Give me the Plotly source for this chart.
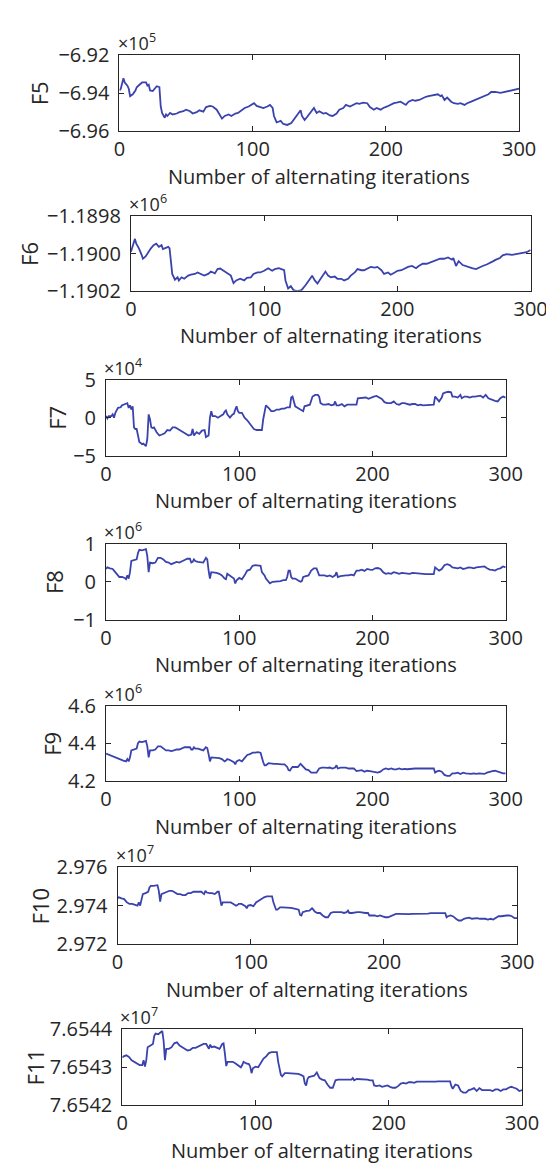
import plotly.graph_objects as go

# ---------------- data (values in the axis' displayed units, see multipliers) ----------------
F5_x = [0,1,3,4,6,7,8,10,12,13,15,17,20,21,22,23,25,27,28,30,
        31,32,34,35,36,38,40,43,45,48,50,53,55,58,60,63,65,68,70,73,
        75,77,79,82,84,87,89,92,94,97,99,101,103,106,108,111,113,115,116,118,
        121,123,126,129,131,134,136,137,139,141,144,146,148,150,153,155,158,160,163,165,
        168,170,173,175,178,180,183,186,188,191,193,196,198,201,203,206,208,211,215,217,
        220,222,225,227,230,232,235,239,241,242,244,246,249,251,254,256,259,261,264,267,
        269,272,274,277,279,282,286,289,293,297,300]
F5_y = [-6.9385,-6.9376,-6.9321,-6.9343,-6.9360,-6.9376,-6.9415,-6.9405,-6.9385,-6.9368,
        -6.9355,-6.9343,-6.9343,-6.9360,-6.9355,-6.9385,-6.9388,-6.9368,-6.9363,-6.9368,
        -6.9469,-6.9503,-6.9528,-6.9511,-6.9519,-6.9503,-6.9511,-6.9506,-6.9499,-6.9494,
        -6.9486,-6.9494,-6.9506,-6.9499,-6.9489,-6.9496,-6.9472,-6.9466,-6.9469,-6.9486,
        -6.9511,-6.9533,-6.9519,-6.9511,-6.9519,-6.9506,-6.9503,-6.9486,-6.9477,-6.9469,
        -6.9461,-6.9452,-6.9466,-6.9472,-6.9477,-6.9469,-6.9461,-6.9477,-6.9519,-6.9553,
        -6.9545,-6.9561,-6.9566,-6.9556,-6.9536,-6.9511,-6.9489,-6.9519,-6.9540,-6.9523,
        -6.9494,-6.9477,-6.9503,-6.9494,-6.9506,-6.9503,-6.9516,-6.9519,-6.9506,-6.9486,
        -6.9477,-6.9461,-6.9469,-6.9461,-6.9452,-6.9455,-6.9449,-6.9452,-6.9472,-6.9486,
        -6.9477,-6.9486,-6.9477,-6.9469,-6.9461,-6.9452,-6.9449,-6.9444,-6.9461,-6.9444,
        -6.9435,-6.9439,-6.9435,-6.9427,-6.9418,-6.9415,-6.9410,-6.9405,-6.9415,-6.9410,
        -6.9435,-6.9422,-6.9444,-6.9452,-6.9455,-6.9452,-6.9461,-6.9452,-6.9444,-6.9435,
        -6.9430,-6.9418,-6.9415,-6.9405,-6.9393,-6.9393,-6.9398,-6.9393,-6.9385,-6.9382,
        -6.9376]

F6_x = [0,1,3,4,6,8,9,11,13,15,
        17,19,21,23,24,26,28,29,30,31,
        33,35,36,38,40,43,45,48,50,53,
        55,58,60,63,65,67,69,72,75,77,
        79,82,85,87,90,92,95,97,100,103,
        106,108,111,113,115,116,118,120,122,125,
        128,131,133,135,136,138,140,142,144,146,
        148,150,153,155,158,160,163,165,168,170,
        173,175,178,180,183,185,188,190,193,195,
        198,200,203,206,208,211,214,216,219,222,
        224,227,230,232,235,238,241,242,244,246,
        249,251,254,256,259,261,264,267,269,272,
        274,277,279,282,286,289,293,297,300]
F6_y = [-1.189990,-1.189964,-1.189921,-1.189947,-1.189972,-1.190007,-1.190028,-1.190016,-1.189990,-1.189972,
        -1.189955,-1.189947,-1.189964,-1.189955,-1.189976,-1.189972,-1.189964,-1.189972,-1.190041,-1.190110,
        -1.190141,-1.190128,-1.190145,-1.190128,-1.190136,-1.190119,-1.190114,-1.190110,-1.190102,-1.190114,
        -1.190119,-1.190110,-1.190097,-1.190107,-1.190084,-1.190081,-1.190090,-1.190102,-1.190119,-1.190159,
        -1.190145,-1.190136,-1.190145,-1.190131,-1.190128,-1.190110,-1.190102,-1.190102,-1.190093,-1.190079,
        -1.190093,-1.190084,-1.190079,-1.190084,-1.190090,-1.190145,-1.190188,-1.190176,-1.190197,-1.190203,
        -1.190197,-1.190171,-1.190153,-1.190131,-1.190119,-1.190145,-1.190162,-1.190141,-1.190119,-1.190097,
        -1.190119,-1.190128,-1.190124,-1.190136,-1.190136,-1.190145,-1.190136,-1.190119,-1.190102,-1.190084,
        -1.190090,-1.190090,-1.190079,-1.190072,-1.190076,-1.190072,-1.190090,-1.190110,-1.190102,-1.190114,
        -1.190102,-1.190093,-1.190090,-1.190079,-1.190072,-1.190067,-1.190079,-1.190067,-1.190055,-1.190055,
        -1.190050,-1.190041,-1.190033,-1.190028,-1.190028,-1.190021,-1.190033,-1.190024,-1.190067,-1.190041,
        -1.190062,-1.190067,-1.190076,-1.190079,-1.190084,-1.190076,-1.190067,-1.190059,-1.190050,-1.190041,
        -1.190033,-1.190024,-1.190010,-1.190003,-1.190007,-1.190003,-1.189998,-1.189993,-1.189981]

F7_x = [0,1,2,4,5,6,7,9,11,12,
        13,15,16,17,18,19,20,21,22,23,
        24,25,26,27,28,29,30,31,32,33,
        34,35,36,38,40,42,44,46,48,50,
        52,54,56,58,60,62,64,65,66,68,
        70,72,74,75,77,78,79,80,82,84,
        86,88,89,90,91,93,95,96,97,98,
        99,100,102,104,106,108,109,111,113,115,
        117,118,119,120,122,124,126,128,130,132,
        134,136,138,139,140,141,142,144,146,148,
        149,151,153,155,157,159,160,161,163,165,
        167,169,171,172,173,175,177,179,181,183,
        185,187,188,189,191,193,195,197,199,201,
        203,205,207,209,211,213,214,216,218,220,
        222,224,226,228,230,232,234,236,238,240,
        242,244,246,247,248,250,252,253,255,257,
        259,260,262,264,266,267,269,271,273,275,
        277,279,281,283,285,287,288,290,292,294,
        296,298,300]
F7_y = [0.21,-0.09,0.21,0.21,0.43,0.0,0.64,1.28,1.36,1.62,
        1.70,1.79,1.91,1.28,1.62,1.06,1.49,-1.28,-1.49,-1.49,
        -2.21,-3.19,-3.32,-3.49,-3.40,-3.62,-3.74,-2.77,0.43,-0.21,
        -1.28,-1.36,-1.28,-1.91,-2.34,-2.21,-2.04,-1.62,-1.70,-1.28,
        -1.28,-1.49,-1.70,-1.91,-2.04,-2.34,-2.21,-1.49,-2.34,-1.91,
        -2.13,-1.70,-1.62,-2.55,-2.34,0.0,0.85,0.21,0.21,0.0,
        0.21,0.43,0.77,0.94,0.43,0.0,0.43,0.51,1.06,1.49,
        0.85,0.64,0.64,0.0,-0.34,-0.77,-1.06,-1.49,-1.62,-1.62,
        -1.62,-0.21,1.06,1.62,1.28,0.85,0.85,1.06,1.06,1.19,
        1.19,1.36,1.36,2.64,2.77,1.91,1.49,1.28,1.06,0.85,
        1.49,1.62,1.70,2.77,2.98,2.98,2.77,1.91,1.70,1.70,
        1.79,1.62,1.70,2.13,1.62,1.62,1.79,1.49,1.70,1.70,
        1.70,1.62,1.70,2.55,2.55,2.55,2.64,2.47,2.64,2.77,
        2.85,2.64,2.47,2.04,1.91,1.91,1.91,2.13,1.79,1.70,
        1.91,1.91,1.79,1.70,1.79,1.79,1.62,1.70,1.62,1.62,
        1.62,1.62,1.70,2.77,2.55,2.13,2.64,3.19,3.32,3.40,
        3.32,2.77,2.77,2.64,2.98,2.55,2.77,2.77,2.64,2.77,
        2.77,2.85,2.89,2.64,2.98,2.55,2.47,2.34,2.21,2.13,
        2.55,2.77,2.64]

F8_x = [0,1,3,5,6,8,10,12,14,15,
        16,17,18,19,21,23,24,25,27,29,
        30,31,32,33,35,37,39,41,43,45,
        47,49,51,53,55,57,59,61,63,64,
        65,66,67,69,71,73,75,76,77,78,
        79,81,83,85,87,89,90,91,93,95,
        96,97,98,100,102,104,106,108,110,112,
        114,116,117,118,119,120,122,123,125,127,
        129,131,133,135,136,137,138,139,140,142,
        144,146,147,148,150,152,154,156,158,160,
        162,164,166,168,170,172,173,174,176,178,
        180,182,184,186,188,190,192,194,196,198,
        200,202,204,206,208,210,212,214,216,218,
        220,222,224,226,228,230,232,234,236,238,
        240,242,244,246,247,248,250,252,254,256,
        258,260,262,264,266,268,270,272,274,276,
        278,280,282,284,286,288,290,292,294,296,
        298,300]
F8_y = [0.336,0.378,0.353,0.336,0.294,0.210,0.126,0.126,0.101,0.067,
        0.168,0.084,0.252,0.546,0.571,0.588,0.756,0.840,0.824,0.840,
        0.857,0.672,0.252,0.504,0.487,0.504,0.630,0.630,0.588,0.521,
        0.504,0.462,0.487,0.521,0.504,0.546,0.571,0.605,0.605,0.504,
        0.521,0.588,0.546,0.521,0.504,0.504,0.630,0.588,0.294,0.084,
        0.252,0.252,0.235,0.210,0.168,0.084,0.067,0.210,0.168,0.126,
        0.084,-0.042,0.042,0.101,0.067,0.168,0.294,0.319,0.420,0.437,
        0.420,0.420,0.252,0.210,0.168,0.084,0.0,-0.042,0.0,0.0,
        0.017,0.017,0.042,0.042,0.126,0.294,0.294,0.126,0.084,0.084,
        0.042,0.0,0.017,0.126,0.151,0.168,0.294,0.353,0.353,0.168,
        0.168,0.168,0.143,0.168,0.126,0.168,0.252,0.126,0.151,0.168,
        0.168,0.168,0.185,0.168,0.294,0.294,0.319,0.286,0.336,0.319,
        0.311,0.353,0.361,0.336,0.252,0.210,0.227,0.210,0.252,0.235,
        0.210,0.235,0.227,0.210,0.210,0.235,0.227,0.210,0.210,0.210,
        0.202,0.202,0.202,0.202,0.378,0.353,0.294,0.336,0.437,0.462,
        0.437,0.378,0.361,0.353,0.378,0.336,0.353,0.378,0.370,0.353,
        0.378,0.387,0.378,0.403,0.353,0.319,0.311,0.294,0.336,0.353,
        0.403,0.378]

F9_x = [0,1,3,5,7,9,11,13,15,16,
        17,18,19,21,23,24,25,27,29,30,
        31,32,33,35,37,39,41,43,45,47,
        49,51,53,55,57,59,61,63,64,65,
        66,67,69,71,73,75,76,77,78,79,
        81,83,85,87,89,90,91,93,95,96,
        97,98,100,102,104,106,108,110,112,114,
        116,117,118,119,120,122,124,126,128,130,
        132,134,136,137,138,139,140,142,144,146,
        147,148,150,152,154,156,158,160,162,164,
        166,168,170,172,173,174,176,178,180,182,
        184,186,188,190,192,194,196,198,200,202,
        204,206,208,210,212,214,216,218,220,222,
        224,226,228,230,232,234,236,238,240,242,
        244,246,247,248,250,252,254,256,258,260,
        262,264,266,268,270,272,274,276,278,280,
        282,284,286,288,290,292,294,296,298,300]
F9_y = [4.346,4.343,4.339,4.334,4.326,4.322,4.312,4.309,4.305,4.317,
        4.305,4.326,4.363,4.366,4.373,4.402,4.410,4.407,4.410,4.414,
        4.385,4.326,4.363,4.363,4.368,4.385,4.385,4.373,4.363,4.363,
        4.359,4.363,4.368,4.368,4.376,4.380,4.380,4.380,4.368,4.368,
        4.380,4.373,4.373,4.368,4.363,4.380,4.376,4.343,4.305,4.326,
        4.326,4.326,4.322,4.317,4.305,4.309,4.317,4.312,4.305,4.300,
        4.289,4.305,4.312,4.305,4.322,4.339,4.343,4.351,4.351,4.354,
        4.351,4.322,4.300,4.284,4.284,4.295,4.292,4.292,4.292,4.289,
        4.289,4.289,4.275,4.258,4.255,4.267,4.275,4.275,4.275,4.292,
        4.284,4.272,4.262,4.258,4.245,4.245,4.245,4.267,4.272,4.272,
        4.270,4.272,4.267,4.272,4.284,4.267,4.272,4.272,4.272,4.267,
        4.267,4.267,4.253,4.255,4.258,4.250,4.255,4.253,4.250,4.245,
        4.245,4.250,4.262,4.267,4.262,4.267,4.262,4.262,4.267,4.262,
        4.265,4.263,4.265,4.267,4.267,4.267,4.267,4.267,4.268,4.268,
        4.268,4.268,4.245,4.250,4.255,4.250,4.233,4.228,4.228,4.241,
        4.241,4.245,4.238,4.245,4.241,4.238,4.238,4.241,4.238,4.241,
        4.241,4.238,4.245,4.250,4.253,4.255,4.250,4.248,4.241,4.241]

F10_x = [0,1,3,5,7,9,11,13,15,16,
         17,18,19,21,23,24,25,27,29,30,
         31,32,33,35,37,39,41,43,45,47,
         49,51,53,55,57,59,61,63,64,65,
         66,67,69,71,73,75,76,77,78,79,
         81,83,85,87,89,90,91,93,95,96,
         97,98,100,102,104,106,108,110,112,114,
         116,117,118,119,120,122,124,126,128,130,
         132,134,136,137,138,139,140,142,144,146,
         147,148,150,152,154,156,158,160,162,164,
         166,168,170,172,173,174,176,178,180,182,
         184,186,188,189,191,193,195,197,199,201,
         203,205,207,209,211,213,215,217,219,221,
         223,225,227,229,231,233,235,237,239,241,
         243,245,246,247,248,250,252,254,256,258,
         260,262,264,266,268,270,272,274,276,278,
         280,282,284,286,288,290,292,294,296,298,
         300]
F10_y = [2.97438,2.97443,2.97438,2.97434,2.97417,2.97409,2.97409,2.97403,2.97400,2.97417,
         2.97400,2.97431,2.97460,2.97465,2.97472,2.97494,2.97503,2.97503,2.97506,2.97506,
         2.97477,2.97421,2.97460,2.97465,2.97468,2.97477,2.97477,2.97468,2.97460,2.97460,
         2.97455,2.97455,2.97465,2.97465,2.97472,2.97472,2.97472,2.97472,2.97465,2.97460,
         2.97477,2.97468,2.97465,2.97465,2.97460,2.97472,2.97472,2.97443,2.97400,2.97417,
         2.97417,2.97417,2.97417,2.97409,2.97400,2.97403,2.97409,2.97409,2.97400,2.97397,
         2.97386,2.97400,2.97403,2.97397,2.97417,2.97426,2.97438,2.97443,2.97448,2.97448,
         2.97448,2.97417,2.97397,2.97379,2.97379,2.97391,2.97391,2.97391,2.97388,2.97388,
         2.97386,2.97383,2.97379,2.97352,2.97349,2.97366,2.97369,2.97373,2.97374,2.97386,
         2.97379,2.97369,2.97362,2.97362,2.97349,2.97340,2.97340,2.97362,2.97366,2.97366,
         2.97366,2.97366,2.97362,2.97366,2.97374,2.97362,2.97362,2.97366,2.97366,2.97366,
         2.97362,2.97362,2.97362,2.97349,2.97349,2.97349,2.97345,2.97349,2.97344,2.97340,
         2.97340,2.97345,2.97352,2.97357,2.97357,2.97356,2.97357,2.97357,2.97356,2.97357,
         2.97357,2.97357,2.97359,2.97359,2.97359,2.97359,2.97361,2.97361,2.97361,2.97361,
         2.97361,2.97361,2.97361,2.97340,2.97345,2.97349,2.97344,2.97332,2.97323,2.97323,
         2.97332,2.97335,2.97338,2.97332,2.97335,2.97335,2.97332,2.97332,2.97332,2.97328,
         2.97332,2.97328,2.97335,2.97345,2.97345,2.97349,2.97349,2.97349,2.97345,2.97335,
         2.97335]

F11_x = list(F10_x)
F11_y = [7.6543255,7.6543289,7.6543315,7.6543272,7.6543187,7.6543145,7.6543102,7.6543060,7.6543060,7.6543187,
         7.6543017,7.6543187,7.6543528,7.6543570,7.6543613,7.6543825,7.6543885,7.6543868,7.6543936,7.6543953,
         7.6543698,7.6543187,7.6543485,7.6543485,7.6543528,7.6543630,7.6543655,7.6543570,7.6543528,7.6543485,
         7.6543443,7.6543460,7.6543511,7.6543511,7.6543545,7.6543596,7.6543613,7.6543613,7.6543528,7.6543485,
         7.6543596,7.6543528,7.6543545,7.6543511,7.6543485,7.6543613,7.6543630,7.6543357,7.6543034,7.6543145,
         7.6543145,7.6543145,7.6543102,7.6543060,7.6543000,7.6543060,7.6543145,7.6543102,7.6543085,7.6543017,
         7.6542847,7.6542974,7.6543017,7.6543000,7.6543102,7.6543230,7.6543289,7.6543374,7.6543400,7.6543400,
         7.6543400,7.6543145,7.6542974,7.6542804,7.6542762,7.6542847,7.6542847,7.6542847,7.6542830,7.6542830,
         7.6542830,7.6542804,7.6542762,7.6542575,7.6542523,7.6542694,7.6542745,7.6542762,7.6542779,7.6542864,
         7.6542779,7.6542719,7.6542677,7.6542660,7.6542549,7.6542464,7.6542464,7.6542660,7.6542677,7.6542677,
         7.6542677,7.6542677,7.6542677,7.6542677,7.6542719,7.6542660,7.6542694,7.6542694,7.6542677,7.6542677,
         7.6542677,7.6542660,7.6542660,7.6542523,7.6542506,7.6542523,7.6542489,7.6542506,7.6542523,7.6542489,
         7.6542464,7.6542464,7.6542506,7.6542575,7.6542592,7.6542575,7.6542609,7.6542609,7.6542592,7.6542626,
         7.6542626,7.6542626,7.6542609,7.6542626,7.6542626,7.6542626,7.6542626,7.6542634,7.6542634,7.6542634,
         7.6542634,7.6542634,7.6542634,7.6542506,7.6542438,7.6542549,7.6542523,7.6542379,7.6542336,7.6542336,
         7.6542404,7.6542421,7.6542455,7.6542379,7.6542455,7.6542404,7.6542404,7.6542404,7.6542404,7.6542379,
         7.6542421,7.6542421,7.6542379,7.6542421,7.6542421,7.6542464,7.6542489,7.6542464,7.6542438,7.6542379,
         7.6542404]

NAMES = ["F5", "F6", "F7", "F8", "F9", "F10", "F11"]
SERIES_X = [F5_x, F6_x, F7_x, F8_x, F9_x, F10_x, F11_x]
SERIES_Y = [F5_y, F6_y, F7_y, F8_y, F9_y, F10_y, F11_y]
EXPONENTS = [5, 6, 4, 6, 6, 7, 7]
Y_TICKVALS = [[-6.96, -6.94, -6.92], [-1.1902, -1.1900, -1.1898], [-5, 0, 5], [-1, 0, 1],
              [4.2, 4.4, 4.6], [2.972, 2.974, 2.976], [7.6542, 7.6543, 7.6544]]
Y_TICKTEXT = [["\u22126.96", "\u22126.94", "\u22126.92"], ["\u22121.1902", "\u22121.1900", "\u22121.1898"],
              ["\u22125", "0", "5"], ["\u22121", "0", "1"], ["4.2", "4.4", "4.6"],
              ["2.972", "2.974", "2.976"], ["7.6542", "7.6543", "7.6544"]]
X_TICKS = [0, 100, 200, 300]
X_TITLE = "Number of alternating iterations"

# ---------------- layout geometry (pixels) ----------------
W, H = 554, 1171
BOX_W = 417
# (left, top, bottom) of each plot box
BOXES = [(110, 34, 112), (122, 199, 275), (96, 366, 444), (96, 534, 612),
         (96, 700, 777), (108, 865, 944), (113, 1031, 1109)]
YLAB_X = [26, 15, 44, 42, 40, 27, 22]

FONT = "Open Sans"
AX_COLOR = "#262626"
LINE_COLOR = "#3a43ad"

for n in range(len(NAMES)):
    assert len(SERIES_X[n]) == len(SERIES_Y[n]), (NAMES[n], len(SERIES_X[n]), len(SERIES_Y[n]))

fig = go.Figure()
annotations = []
layout = dict(width=W, height=H, margin=dict(l=0, r=0, t=0, b=0),
              paper_bgcolor="white", plot_bgcolor="white", showlegend=False,
              font=dict(family=FONT, size=20, color=AX_COLOR))

for i, name in enumerate(NAMES):
    k = i + 1
    xa = "x" if k == 1 else f"x{k}"
    ya = "y" if k == 1 else f"y{k}"
    L, T, B = BOXES[i]
    R = L + BOX_W
    fig.add_trace(go.Scatter(x=SERIES_X[i], y=SERIES_Y[i], mode="lines",
                             line=dict(color=LINE_COLOR, width=1.8),
                             xaxis=xa, yaxis=ya, hoverinfo="skip"))
    common = dict(showline=True, mirror="ticks", linecolor=AX_COLOR, linewidth=1,
                  ticks="inside", ticklen=5, tickcolor=AX_COLOR, tickwidth=1,
                  showgrid=False, zeroline=False,
                  tickfont=dict(family=FONT, size=20, color=AX_COLOR))
    layout["xaxis" if k == 1 else f"xaxis{k}"] = dict(
        common, domain=[L / W, R / W], anchor=ya, range=[0, 300],
        tickvals=X_TICKS, ticktext=[str(t) for t in X_TICKS])
    yv = Y_TICKVALS[i]
    layout["yaxis" if k == 1 else f"yaxis{k}"] = dict(
        common, domain=[1 - B / H, 1 - T / H], anchor=xa, range=[yv[0], yv[-1]],
        tickvals=yv, ticktext=Y_TICKTEXT[i], ticklabelstandoff=5)
    # x-axis title
    annotations.append(dict(text=X_TITLE, xref="paper", yref="paper",
                            x=(L + R) / 2 / W, y=1 - (B + 46) / H,
                            xanchor="center", yanchor="middle", showarrow=False,
                            borderpad=0,
                            font=dict(family=FONT, size=20, color=AX_COLOR)))
    # y-axis title
    annotations.append(dict(text=name, xref="paper", yref="paper",
                            x=YLAB_X[i] / W, y=1 - (T + B) / 2 / H, textangle=-90,
                            xanchor="center", yanchor="middle", showarrow=False,
                            font=dict(family=FONT, size=22, color=AX_COLOR)))
    # exponent multiplier
    annotations.append(dict(text=f"\u00d710<sup>{EXPONENTS[i]}</sup>", xref="paper", yref="paper",
                            x=(L - 3) / W, y=1 - (T + 1) / H,
                            xanchor="left", yanchor="bottom", showarrow=False,
                            borderpad=0,
                            font=dict(family=FONT, size=18, color=AX_COLOR)))

layout["annotations"] = annotations
fig.update_layout(**layout)
fig.write_html("out.html")
